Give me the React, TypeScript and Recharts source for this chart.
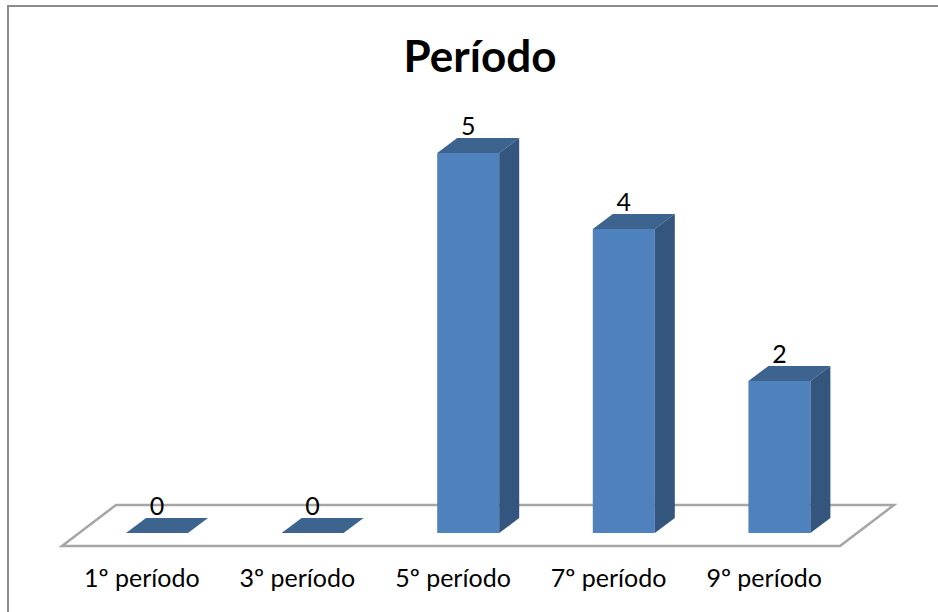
import { BarChart, Bar, XAxis, YAxis, LabelList, Customized } from 'recharts';

const categories = ['1º período', '3º período', '5º período', '7º período', '9º período'];
const counts = [0, 0, 5, 4, 2];
const chartData = categories.map((name, i) => ({ name, value: counts[i] }));

const FONT = 'Lato, "Open Sans", sans-serif';
const DEPTH_X = 20;
const DEPTH_Y = 15;

// 3D column: front face, top face and right side
function Column3D(props: any) {
  const { x, y, width, height } = props;
  const r = x + width;
  const b = y + height;
  const dx = DEPTH_X;
  const dy = DEPTH_Y;
  return (
    <g>
      {height > 0 && <rect x={x} y={y} width={width} height={height} fill="#4f81bd" />}
      <polygon
        points={`${x},${y} ${r},${y} ${r + dx},${y - dy} ${x + dx},${y - dy}`}
        fill="#3c648f"
      />
      {height > 0 && (
        <polygon
          points={`${r},${y} ${r + dx},${y - dy} ${r + dx},${b - dy} ${r},${b}`}
          fill="#33557e"
        />
      )}
    </g>
  );
}

// Flat floor of the 3D chart, behind the columns
function Floor() {
  return (
    <polygon
      points="62,546 840,546 894,505 116,505"
      fill="#ffffff"
      stroke="#a6a6a6"
      strokeWidth={2.5}
    />
  );
}

export default function App() {
  return (
    <div style={{ position: 'absolute', left: 0, top: 0, width: 938, height: 612, background: '#fff' }}>
      <BarChart
        width={938}
        height={612}
        data={chartData}
        margin={{ top: 153, right: 81, bottom: 0, left: 79 }}
        barSize={62}
      >
        <Customized component={Floor} />
        <path d="M8,612 L8,6 L938,6" fill="none" stroke="#8c8c8c" strokeWidth={2} />
        <text x={480} y={72} textAnchor="middle" fontFamily={FONT} fontWeight={700} fontSize={44} fill="#000">
          Período
        </text>
        <XAxis
          dataKey="name"
          axisLine={false}
          tickLine={false}
          interval={0}
          height={79}
          tick={{ fontFamily: FONT, fontSize: 25, fill: '#000', dx: -15, dy: 28 }}
        />
        <YAxis hide domain={[0, 5]} />
        <Bar dataKey="value" shape={<Column3D />} isAnimationActive={false}>
          <LabelList
            dataKey="value"
            position="top"
            offset={18}
            style={{ fontFamily: FONT, fontSize: 25, fill: '#000' }}
          />
        </Bar>
      </BarChart>
    </div>
  );
}
